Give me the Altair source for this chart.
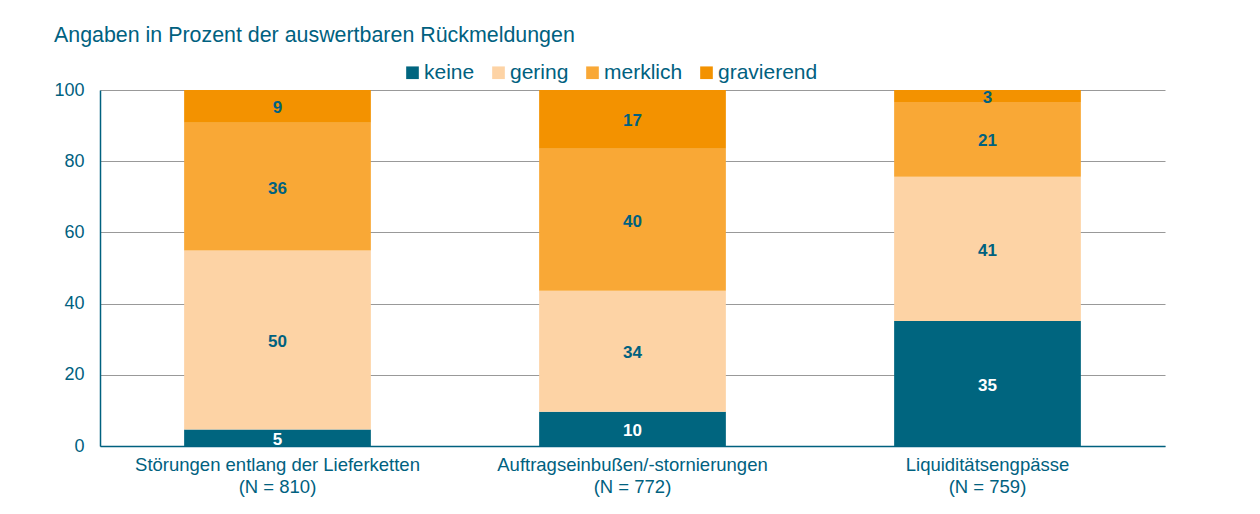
import altair as alt
import pandas as pd

categories = ["Störungen entlang der Lieferketten|(N = 810)",
              "Auftragseinbußen/-stornierungen|(N = 772)",
              "Liquiditätsengpässe|(N = 759)"]
series = ["keine", "gering", "merklich", "gravierend"]
# bar segment heights
values = {
    "keine":      [4.6, 9.6, 35.1],
    "gering":     [50.3, 34.0, 40.5],
    "merklich":   [35.9, 39.9, 21.0],
    "gravierend": [9.2, 16.5, 3.4],
}
# printed labels
labels = {
    "keine":      [5, 10, 35],
    "gering":     [50, 34, 41],
    "merklich":   [36, 40, 21],
    "gravierend": [9, 17, 3],
}
colors = ["#00657f", "#fdd3a5", "#f9a836", "#f39200"]

rows = []
for si, s in enumerate(series):
    for ci, c in enumerate(categories):
        rows.append({"cat": c, "series": s, "idx": si,
                     "value": values[s][ci], "label": labels[s][ci]})
df = pd.DataFrame(rows)

TEAL = "#00617f"
FONT = "Liberation Sans"

base = alt.Chart(df).transform_stack(
    stack="value", groupby=["cat"], as_=["y0", "y1"],
    sort=[alt.SortField("idx", order="ascending")]
).transform_calculate(ymid="(datum.y0 + datum.y1) / 2")

xenc = alt.X("cat:N", sort=categories, title=None,
             scale=alt.Scale(paddingInner=0.474, paddingOuter=0.237),
             axis=alt.Axis(labelAngle=0, labelExpr="split(datum.label, '|')",
                           labelFontSize=18.5, labelColor=TEAL, labelFont=FONT,
                           labelLineHeight=22, labelPadding=9, ticks=False,
                           labelLimit=0,
                           domainColor=TEAL, domainWidth=1.5, grid=False))

bars = base.mark_bar(stroke=None).encode(
    x=xenc,
    y=alt.Y("y0:Q", title=None,
            scale=alt.Scale(domain=[0, 100]),
            axis=alt.Axis(values=[0, 20, 40, 60, 80, 100], labelFontSize=18,
                          labelColor=TEAL, labelFont=FONT, ticks=False,
                          labelPadding=16, domainColor=TEAL, domainWidth=1.5,
                          gridColor="#999999", gridWidth=1.2)),
    y2="y1:Q",
    color=alt.Color("series:N", sort=series,
                    scale=alt.Scale(domain=series, range=colors),
                    legend=alt.Legend(title=None, orient="none", direction="horizontal",
                                      legendX=302, legendY=-28,
                                      symbolType="square", symbolSize=160,
                                      symbolStrokeWidth=0, labelFontSize=21,
                                      labelColor=TEAL, labelFont=FONT,
                                      columnPadding=13, labelOffset=1)),
)

text = base.mark_text(fontSize=17, fontWeight="bold", font=FONT, baseline="middle", dy=2).encode(
    x=alt.X("cat:N", sort=categories),
    y=alt.Y("ymid:Q"),
    text=alt.Text("label:Q"),
    color=alt.condition("datum.series == 'keine'", alt.value("white"), alt.value(TEAL)),
)

chart = alt.layer(bars, text).properties(
    width=1065, height=356,
    padding={"left": 92, "top": 82, "right": 87, "bottom": 60},
    autosize=alt.AutoSizeParams(type="none"),
    title=alt.TitleParams("Angaben in Prozent der auswertbaren Rückmeldungen",
                          anchor="start", frame="bounds", fontSize=21.4,
                          fontWeight="normal", color=TEAL, font=FONT, offset=16),
).configure_view(stroke=None)

chart.save("out.html", embed_options={"renderer": "svg", "actions": False})
